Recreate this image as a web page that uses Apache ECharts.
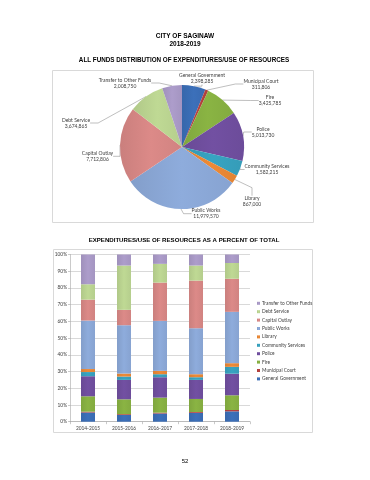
<!DOCTYPE html>
<html>
<head>
<meta charset="utf-8">
<script src="https://cdn.jsdelivr.net/npm/echarts@6/dist/echarts.min.js"></script>
<style>html,body{margin:0;padding:0;background:#fff}#c{width:370px;height:480px}</style>
</head>
<body>
<div id="c"></div>
<script>
// ---- data ----
const categories = ['General Government','Municipal Court','Fire','Police','Community Services','Library','Public Works','Capital Outlay','Debt Service','Transfer to Other Funds'];
const pieValues = [2398285, 311806, 3425785, 5013730, 1582215, 867000, 11979570, 7712806, 3674865, 2008750];
const years = ['2014-2015','2015-2016','2016-2017','2017-2018','2018-2019'];
// percent of total per year, one array per category (bottom to top of stack)
const pctGeneralGovernment = [5.5, 4.0, 4.9, 5.3, 6.2];
const pctMunicipalCourt    = [0.5, 0.5, 0.5, 0.5, 0.8];
const pctFire              = [9.2, 8.9, 9.0, 7.8, 8.8];
const pctPolice            = [12.0, 11.6, 12.2, 11.4, 12.9];
const pctCommunityServices = [2.5, 2.0, 1.8, 1.6, 4.1];
const pctLibrary           = [1.8, 1.8, 2.0, 1.8, 2.2];
const pctPublicWorks       = [29.0, 28.9, 29.9, 27.5, 30.7];
const pctCapitalOutlay     = [12.5, 9.2, 22.9, 28.5, 19.8];
const pctDebtService       = [9.2, 26.5, 11.2, 9.0, 9.4];
const pctTransfer          = [17.8, 6.6, 5.6, 6.6, 5.1];
const yTicks = [0,10,20,30,40,50,60,70,80,90,100];

// ---- styles / layout ----
const colors = ['#3C70BA','#B8423F','#8AB443','#7250A2','#38A4C2','#EE8A36','#8EACDC','#DC8A88','#BFD994','#AD9DCB'];
const pctSeries = [pctGeneralGovernment,pctMunicipalCourt,pctFire,pctPolice,pctCommunityServices,pctLibrary,pctPublicWorks,pctCapitalOutlay,pctDebtService,pctTransfer];
const labelPos = [[202,78.5],[261,84],[270,100.5],[263,132],[267,169.5],[252,201.7],[206,213.7],[97.5,156.3],[76,123],[125,83]];
const fam = '"Liberation Sans", Arial, sans-serif';
const lblFam = 'Lato, "Open Sans", sans-serif';

function shade(hex, f){
  const n = parseInt(hex.slice(1),16);
  let r=(n>>16)&255,g=(n>>8)&255,b=n&255;
  r=Math.round(Math.min(255,r*f));g=Math.round(Math.min(255,g*f));b=Math.round(Math.min(255,b*f));
  return 'rgb('+r+','+g+','+b+')';
}
function grad(c){
  return {type:'linear',x:0,y:0,x2:1,y2:0,colorStops:[{offset:0,color:shade(c,0.92)},{offset:0.5,color:c},{offset:1,color:shade(c,0.95)}]};
}

const chart = echarts.init(document.getElementById('c'), null, {renderer:'canvas'});

const barSeries = categories.map((name,i)=>({
  name: name,
  type: 'bar',
  stack: 'pct',
  barWidth: 14,
  data: pctSeries[i],
  itemStyle: {color: grad(colors[i])},
  emphasis: {disabled: true},
  animation: false
}));

const tStyle = (s,w) => ({fontFamily:fam,fontSize:s,fontWeight:w||'bold',color:'#000'});
const option = {
  animation: false,
  color: colors,
  title: [
    {text:'CITY OF SAGINAW', left:185, top:32.4, padding:0, textAlign:'center', textStyle:tStyle(6.5)},
    {text:'2018-2019', left:185, top:41, padding:0, textAlign:'center', textStyle:tStyle(6.5)},
    {text:'ALL FUNDS DISTRIBUTION OF EXPENDITURES/USE OF RESOURCES', left:184, top:56.8, padding:0, textAlign:'center', textStyle:tStyle(6.3)},
    {text:'EXPENDITURES/USE OF RESOURCES AS A PERCENT OF TOTAL', left:184, top:237, padding:0, textAlign:'center', textStyle:tStyle(6.1)},
    {text:'52', left:185, top:458, padding:0, textAlign:'center', textStyle:tStyle(6,'normal')}
  ],
  graphic: [
    {type:'rect', shape:{x:52.5,y:70.5,width:261,height:152}, style:{fill:'none',stroke:'#D9D9D9',lineWidth:1}, silent:true},
    {type:'rect', shape:{x:53.5,y:249.5,width:259,height:183}, style:{fill:'none',stroke:'#D9D9D9',lineWidth:1}, silent:true}
  ],
  legend: {
    orient:'vertical', left:257, top:300.3, padding:0,
    data: categories.slice().reverse(),
    icon:'rect', itemWidth:3, itemHeight:3, itemGap:2.4,
    textStyle:{fontFamily:lblFam,fontSize:4.8,color:'#404040',lineHeight:6,padding:[0,0,0,-3]},
    selectedMode:false
  },
  grid: {left:70, right:120, top:254.5, bottom:58.3},
  xAxis: {
    type:'category', data: years,
    axisLine:{show:true,lineStyle:{color:'#A6A6A6',width:0.6}},
    axisTick:{show:true,length:2.5,lineStyle:{color:'#A6A6A6',width:0.6}},
    axisLabel:{fontFamily:lblFam,fontSize:4.8,color:'#404040',margin:4}
  },
  yAxis: {
    type:'value', min:yTicks[0], max:yTicks[yTicks.length-1], interval:yTicks[1]-yTicks[0],
    axisLine:{show:true,lineStyle:{color:'#A6A6A6',width:0.6}},
    axisTick:{show:true,length:2,lineStyle:{color:'#A6A6A6',width:0.6}},
    splitLine:{show:true,lineStyle:{color:'#BFBFBF',width:0.6}},
    axisLabel:{formatter:'{value}%',fontFamily:lblFam,fontSize:4.8,color:'#404040',margin:3}
  },
  series: barSeries.concat([{
    type:'pie',
    center:[182,147], radius:62,
    startAngle:90, clockwise:true,
    data: categories.map((n,i)=>({name:n,value:pieValues[i],itemStyle:{color:grad(colors[i])}})),
    label:{show:true, position:'outside', fontFamily:lblFam, fontSize:5, color:'#404040', lineHeight:6,
      formatter: p => p.name + '\n' + p.value.toLocaleString('en-US')},
    labelLine:{show:true, length:8, length2:8, lineStyle:{color:'#7F7F7F',width:0.5}},
    labelLayout: function(params){
      const p = labelPos[params.dataIndex];
      return {x:p[0], y:p[1], align:'center', verticalAlign:'middle'};
    },
    emphasis:{disabled:true},
    silent:true
  }])
};
chart.setOption(option);
</script>
</body>
</html>
